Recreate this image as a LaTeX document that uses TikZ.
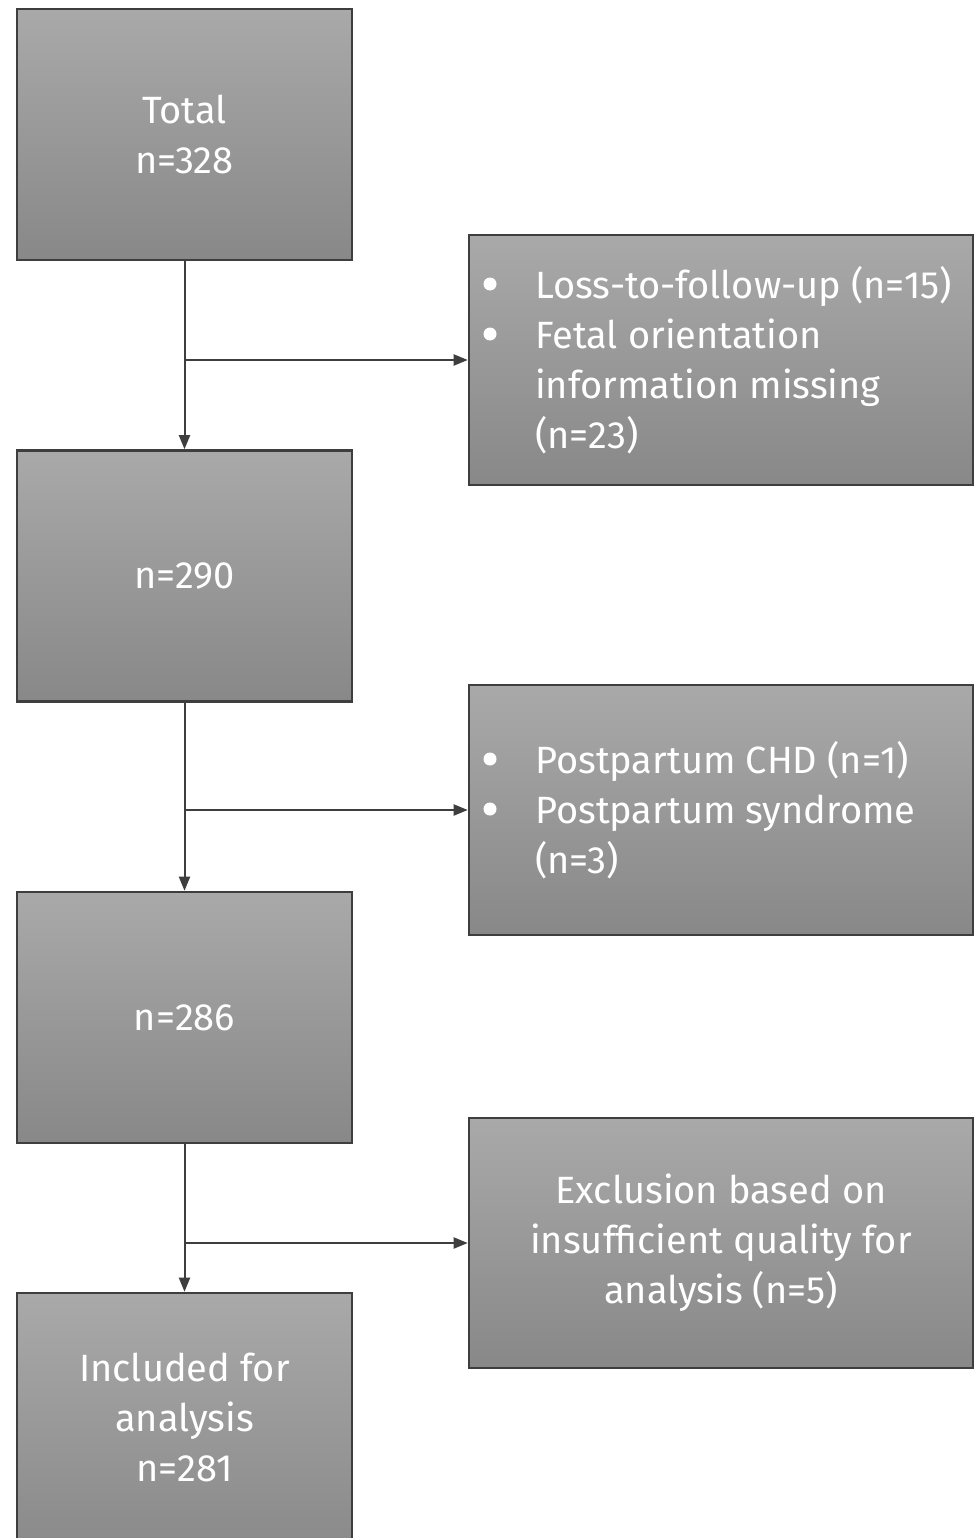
\documentclass[tikz,border=0pt]{standalone}
\usepackage{fontspec}
\setmainfont{Fira Sans}
\usetikzlibrary{arrows.meta}
\definecolor{boxtop}{HTML}{A9A9A9}
\definecolor{boxbot}{HTML}{888888}
\definecolor{edge}{HTML}{3E3E3E}
\newcommand{\ind}{\hspace*{52pt}}
\begin{document}
\begin{tikzpicture}[x=1pt,y=-1pt,
  txt/.style={text=white,font=\fontsize{38}{50}\selectfont},
  box/.style={draw=edge,line width=2.6pt,top color=boxtop,bottom color=boxbot,
    txt,inner sep=0pt},
  lbox/.style={box,minimum width=335pt,minimum height=251pt,align=center},
  rbox/.style={box,minimum width=504pt,minimum height=250pt},
  dot/.style={fill=white,draw=none},
  conn/.style={draw=edge,line width=2pt,-{Triangle[length=14pt,width=11pt]}}]
\clip (0,0) rectangle (975,1538);
\fill[white] (0,0) rectangle (975,1538);
\node[lbox] (b1) at (184.5,134.5) {Total\\n=328};
\node[lbox] (b2) at (184.5,576) {n=290};
\node[lbox] (b3) at (184.5,1017.5) {n=286};
\node[lbox,minimum height=270pt] (b4) at (184.5,1428) {};
\node[txt,align=center] (b4t) at (184.5,1417) {Included for\\analysis\\n=281};
\node[rbox] (r1) at (721,360) {};
\node[rbox] (r2) at (721,810) {};
\node[rbox] (r3) at (721,1243) {};
\node[txt,anchor=west,inner sep=0pt,align=left] (r1t) at (483,360)
  {\ind Loss-to-follow-up (n=15)\\\ind Fetal orientation\\\ind information missing\\\ind (n=23)};
\node[txt,anchor=west,inner sep=0pt,align=left] (r2t) at (483,810)
  {\ind Postpartum CHD (n=1)\\\ind Postpartum syndrome\\\ind (n=3)};
\node[txt,align=center] (r3t) at (721,1243)
  {Exclusion based on\\insufficient quality for\\analysis (n=5)};
\fill[dot] (490,284) circle (6.5);
\fill[dot] (490,334) circle (6.5);
\fill[dot] (490,759) circle (6.5);
\fill[dot] (490,809) circle (6.5);
\draw[conn] (b1) -- (b2);
\draw[conn] (b2) -- (b3);
\draw[conn] (b3) -- (b4);
\draw[conn] (b1.south |- r1.west) -- (r1);
\draw[conn] (b2.south |- r2.west) -- (r2);
\draw[conn] (b3.south |- r3.west) -- (r3);
\end{tikzpicture}
\end{document}
